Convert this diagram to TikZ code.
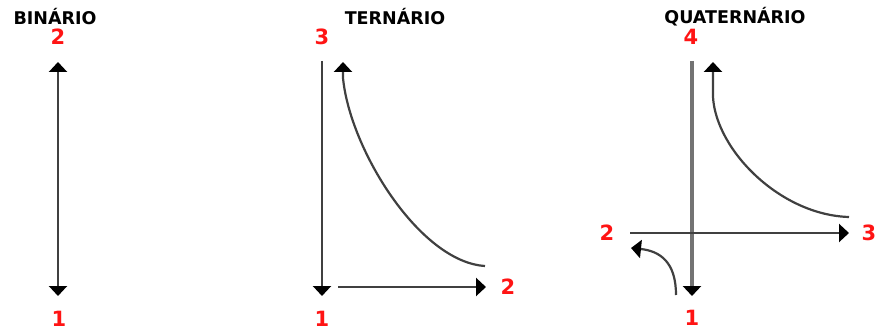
\documentclass[tikz,border=0pt]{standalone}
\usepackage{fontspec}
\setmainfont{DejaVu Sans}
\usetikzlibrary{arrows.meta}
\definecolor{lab}{RGB}{255,20,20}
\tikzset{
  ttl/.style={font=\bfseries\fontsize{17.5}{17.5}\selectfont, text=black, inner sep=0pt},
  num/.style={font=\bfseries\fontsize{21}{21}\selectfont, text=lab, inner sep=0pt},
  ln/.style={draw=black!75, line width=2.2pt},
  gln/.style={draw=black!55, line width=3.2pt},
  tip/.style={-{Triangle[width=18pt,length=10pt,color=black]}},
  tipb/.style={{Triangle[width=18pt,length=10pt,color=black]}-{Triangle[width=18pt,length=10pt,color=black]}},
}
\begin{document}
\begin{tikzpicture}[x=1pt,y=-1pt]
\useasboundingbox (0,0) rectangle (875,331);
% BINARIO
\node[ttl] (tb) at (55,17) {BINÁRIO};
\node[num] (b2) at (58,37) {2};
\node[num] (b1) at (59,319) {1};
\coordinate (bt) at (58,62);
\coordinate (bb) at (58,296);
\draw[ln,tipb] (bb) -- (bt);
% TERNARIO
\node[ttl] (tt) at (395,17) {TERNÁRIO};
\node[num] (t3) at (322,37) {3};
\node[num] (t1) at (322,319) {1};
\node[num] (t2) at (508,287) {2};
\coordinate (tv0) at (322,61);
\coordinate (tv1) at (322,296);
\draw[ln,tip] (tv0) -- (tv1);
\coordinate (th0) at (338,287);
\coordinate (th1) at (486,287);
\draw[ln,tip] (th0) -- (th1);
\coordinate (tc0) at (485,266);
\coordinate (tc1) at (343,62);
\draw[ln,tip] (tc0) .. controls (420,262) and (350,150) .. (343,78) -- (tc1);
% QUATERNARIO
\node[ttl] (tq) at (735,17) {QUATERNÁRIO};
\node[num] (q4) at (691,37) {4};
\node[num] (q1) at (692,318) {1};
\node[num] (q2) at (607,233) {2};
\node[num] (q3) at (869,233) {3};
\coordinate (qv0) at (692,61);
\coordinate (qv1) at (692,296);
\draw[gln,tip] (qv0) -- (qv1);
\coordinate (qh0) at (630,233);
\coordinate (qh1) at (849,233);
\draw[ln,tip] (qh0) -- (qh1);
\coordinate (qc0) at (849,217);
\coordinate (qc1) at (713,62);
\draw[ln,tip] (qc0) .. controls (780,215) and (716,150) .. (713,97) -- (qc1);
\coordinate (qs0) at (676,295);
\coordinate (qs1) at (631,248);
\draw[ln,tip] (qs0) .. controls (676,262) and (660,251) .. (qs1);
\end{tikzpicture}
\end{document}
